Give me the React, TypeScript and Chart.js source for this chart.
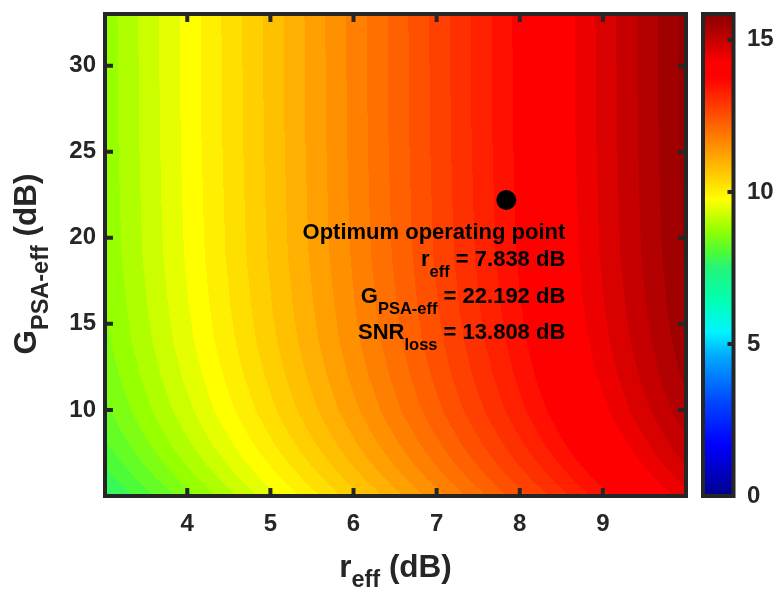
import React, { useEffect, useRef } from "react";
import { Chart, registerables } from "chart.js";

Chart.register(...registerables);

// ---------------- data ----------------
// grid columns: r_eff (dB)
const rEffGrid = [3, 4, 5, 6, 7, 8, 9, 10];
// grid rows: G_PSA-eff (dB)
const gPsaGrid = [5, 6, 7, 8, 9, 10, 12, 14, 16, 19, 22, 26, 33];
// SNR_loss (dB); one row per gPsaGrid entry, one column per rEffGrid entry
const snrLoss = [
  [7.65, 8.65, 9.65, 10.65, 11.65, 12.65, 13.65, 14.65],
  [7.87, 8.87, 9.87, 10.87, 11.87, 12.87, 13.87, 14.87],
  [8.05, 9.05, 10.05, 11.05, 12.05, 13.05, 14.05, 15.05],
  [8.2, 9.2, 10.2, 11.2, 12.2, 13.2, 14.2, 15.2],
  [8.32, 9.32, 10.32, 11.32, 12.32, 13.32, 14.32, 15.32],
  [8.43, 9.43, 10.43, 11.43, 12.43, 13.43, 14.43, 15.43],
  [8.57, 9.57, 10.57, 11.57, 12.57, 13.57, 14.57, 15.57],
  [8.67, 9.67, 10.67, 11.67, 12.67, 13.67, 14.67, 15.67],
  [8.73, 9.73, 10.73, 11.73, 12.73, 13.73, 14.73, 15.73],
  [8.79, 9.79, 10.79, 11.79, 12.79, 13.79, 14.79, 15.79],
  [8.81, 9.81, 10.81, 11.81, 12.81, 13.81, 14.81, 15.81],
  [8.83, 9.83, 10.83, 11.83, 12.83, 13.83, 14.83, 15.83],
  [8.84, 9.84, 10.84, 11.84, 12.84, 13.84, 14.84, 15.84],
];
const contourStep = 0.25;

const xRange = [3.0103, 10];
const yRange = [5, 33];
const cbRange = [0, 15.85];
const xTicks = [4, 5, 6, 7, 8, 9];
const yTicks = [10, 15, 20, 25, 30];
const cbTicks = [0, 5, 10, 15];

// colormap stops (value -> colour)
const cmapValues = [0, 1.7, 3.1, 4.6, 5.4, 6.4, 7.5, 8.0, 8.75, 9.75, 11.75, 13.75, 14.25, 15.5, 15.85];
const cmapColors = [
  [0, 0, 140], [0, 0, 255], [0, 70, 255], [0, 170, 255], [0, 245, 255], [0, 255, 180],
  [35, 245, 120], [75, 252, 55], [150, 255, 0], [255, 255, 0], [255, 128, 0],
  [255, 0, 0], [255, 0, 0], [160, 0, 0], [140, 0, 0],
];

const optR = 7.838;
const optG = 22.192;
const optSnr = 13.808;

// ---------------- helpers ----------------
const FONT = '"Liberation Sans", Arial, Helvetica, sans-serif';
const INK = "#262626";

function cmap(v: number): number[] {
  if (v <= cmapValues[0]) return cmapColors[0];
  const n = cmapValues.length;
  if (v >= cmapValues[n - 1]) return cmapColors[n - 1];
  let i = 0;
  while (v > cmapValues[i + 1]) i++;
  const t = (v - cmapValues[i]) / (cmapValues[i + 1] - cmapValues[i]);
  const a = cmapColors[i], b = cmapColors[i + 1];
  return [0, 1, 2].map((k) => Math.round(a[k] + (b[k] - a[k]) * t));
}

function locate(arr: number[], v: number): [number, number] {
  const n = arr.length;
  if (v <= arr[0]) return [0, 0];
  if (v >= arr[n - 1]) return [n - 2, 1];
  let i = 0;
  while (v > arr[i + 1]) i++;
  return [i, (v - arr[i]) / (arr[i + 1] - arr[i])];
}

function fieldAt(r: number, g: number): number {
  const [i, tx] = locate(rEffGrid, r);
  const [j, ty] = locate(gPsaGrid, g);
  const a = snrLoss[j][i], b = snrLoss[j][i + 1];
  const c = snrLoss[j + 1][i], d = snrLoss[j + 1][i + 1];
  return (a * (1 - tx) + b * tx) * (1 - ty) + (c * (1 - tx) + d * tx) * ty;
}

type Part = [string, boolean];
function richWidth(ctx: CanvasRenderingContext2D, parts: Part[], size: number, sub: number) {
  let w = 0;
  for (const [t, s] of parts) {
    ctx.font = `bold ${s ? sub : size}px ${FONT}`;
    w += ctx.measureText(t).width;
  }
  return w;
}
function drawRich(ctx: CanvasRenderingContext2D, parts: Part[], x: number, y: number, size: number, sub: number, subDy: number) {
  let cx = x;
  ctx.textBaseline = "alphabetic";
  ctx.textAlign = "left";
  for (const [t, s] of parts) {
    ctx.font = `bold ${s ? sub : size}px ${FONT}`;
    ctx.fillText(t, cx, s ? y + subDy : y);
    cx += ctx.measureText(t).width;
  }
}

// ---------------- plugins ----------------
const fieldPlugin = {
  id: "field",
  beforeDatasetsDraw(chart: any) {
    const { ctx, chartArea: a, scales } = chart;
    const xs = scales.x, ys = scales.y;
    const w = Math.round(a.right - a.left), h = Math.round(a.bottom - a.top);
    const off = document.createElement("canvas");
    off.width = w; off.height = h;
    const octx = off.getContext("2d")!;
    const img = octx.createImageData(w, h);
    for (let j = 0; j < h; j++) {
      const g = ys.getValueForPixel(a.top + j + 0.5);
      for (let i = 0; i < w; i++) {
        const r = xs.getValueForPixel(a.left + i + 0.5);
        const v = fieldAt(r, g);
        const lvl = Math.floor(v / contourStep) * contourStep;
        const c = cmap(lvl);
        const p = (j * w + i) * 4;
        img.data[p] = c[0]; img.data[p + 1] = c[1]; img.data[p + 2] = c[2]; img.data[p + 3] = 255;
      }
    }
    octx.putImageData(img, 0, 0);
    ctx.save();
    ctx.drawImage(off, a.left, a.top);
    ctx.restore();
  },
};

const decorPlugin = {
  id: "decor",
  afterDatasetsDraw(chart: any) {
    const { ctx, scales } = chart;
    const px = scales.x.getPixelForValue(optR);
    const py = scales.y.getPixelForValue(optG);
    ctx.save();
    ctx.fillStyle = "#000";
    const right = px + 59;
    const lines: Part[][] = [
      [["Optimum operating point", false]],
      [["r", false], ["eff", true], [` = ${optR.toFixed(3)} dB`, false]],
      [["G", false], ["PSA-eff", true], [` = ${optG.toFixed(3)} dB`, false]],
      [["SNR", false], ["loss", true], [` = ${optSnr.toFixed(3)} dB`, false]],
    ];
    const dys = [39, 66, 103, 139];
    lines.forEach((parts, k) => {
      const w = richWidth(ctx, parts, 22, 16.5);
      drawRich(ctx, parts, right - w, py + dys[k], 22, 16.5, 11);
    });
    ctx.restore();
  },
  afterDraw(chart: any) {
    const { ctx, chartArea: a, scales } = chart;
    ctx.save();
    ctx.strokeStyle = INK;
    ctx.lineWidth = 4;
    ctx.strokeRect(a.left, a.top, a.right - a.left, a.bottom - a.top);
    const tl = 8;
    ctx.beginPath();
    for (const v of xTicks) {
      const x = scales.x.getPixelForValue(v);
      ctx.moveTo(x, a.bottom); ctx.lineTo(x, a.bottom - tl);
      ctx.moveTo(x, a.top); ctx.lineTo(x, a.top + tl);
    }
    for (const v of yTicks) {
      const y = scales.y.getPixelForValue(v);
      ctx.moveTo(a.left, y); ctx.lineTo(a.left + tl, y);
      ctx.moveTo(a.right, y); ctx.lineTo(a.right - tl, y);
    }
    ctx.stroke();

    // colorbar
    const cb = scales.cb;
    const cl = a.right + 17, cr = a.right + 47.5;
    const top = cb.getPixelForValue(cbRange[1]), bot = cb.getPixelForValue(cbRange[0]);
    const grad = ctx.createLinearGradient(0, bot, 0, top);
    cmapValues.forEach((v, i) => {
      const c = cmapColors[i];
      grad.addColorStop((v - cbRange[0]) / (cbRange[1] - cbRange[0]), `rgb(${c[0]},${c[1]},${c[2]})`);
    });
    ctx.fillStyle = grad;
    ctx.fillRect(cl, top, cr - cl, bot - top);
    ctx.strokeRect(cl, top, cr - cl, bot - top);
    ctx.beginPath();
    for (const v of cbTicks) {
      if (v === cbRange[0]) continue;
      const y = cb.getPixelForValue(v);
      ctx.moveTo(cr, y); ctx.lineTo(cr - 6, y);
    }
    ctx.stroke();

    // axis titles
    ctx.fillStyle = INK;
    const xParts: Part[] = [["r", false], ["eff", true], [" (dB)", false]];
    const xw = richWidth(ctx, xParts, 31.5, 23.5);
    drawRich(ctx, xParts, (a.left + a.right) / 2 - xw / 2, 577, 31.5, 23.5, 10);

    const yParts: Part[] = [["G", false], ["PSA-eff", true], [" (dB)", false]];
    const yw = richWidth(ctx, yParts, 31.5, 23.5);
    ctx.translate(36, (a.top + a.bottom) / 2 + 9);
    ctx.rotate(-Math.PI / 2);
    drawRich(ctx, yParts, -yw / 2, 0, 31.5, 23.5, 12);
    ctx.restore();
  },
};

function setTicks(values: number[]) {
  return (scale: any) => {
    scale.ticks = values.map((v) => ({ value: v }));
  };
}
function fix(size: { width?: number; height?: number }) {
  return (scale: any) => {
    if (size.width !== undefined) scale.width = size.width;
    if (size.height !== undefined) scale.height = size.height;
    scale.paddingTop = 0; scale.paddingBottom = 0;
    scale.paddingLeft = 0; scale.paddingRight = 0;
  };
}

const tickFont = { family: FONT, size: 24, weight: "bold" as const };

export default function App() {
  const ref = useRef<HTMLCanvasElement>(null);
  useEffect(() => {
    const chart = new Chart(ref.current!, {
      type: "scatter",
      data: {
        datasets: [
          {
            label: "Optimum operating point",
            data: [{ x: optR, y: optG }],
            pointRadius: 10,
            pointHoverRadius: 10,
            backgroundColor: "#000",
            borderWidth: 0,
          },
        ],
      },
      options: {
        responsive: false,
        animation: false,
        devicePixelRatio: 1,
        events: [],
        layout: { padding: { top: 14, left: 0, right: 0, bottom: 0 } },
        plugins: { legend: { display: false }, tooltip: { enabled: false } },
        scales: {
          x: {
            type: "linear",
            position: "bottom",
            min: xRange[0],
            max: xRange[1],
            afterBuildTicks: setTicks(xTicks),
            afterFit: fix({ height: 94 }),
            grid: { display: false, drawTicks: false },
            border: { display: false },
            ticks: { font: tickFont, color: INK, padding: 14, maxRotation: 0, autoSkip: false },
          },
          y: {
            type: "linear",
            position: "left",
            min: yRange[0],
            max: yRange[1],
            afterBuildTicks: setTicks(yTicks),
            afterFit: fix({ width: 105 }),
            grid: { display: false, drawTicks: false },
            border: { display: false },
            ticks: { font: tickFont, color: INK, padding: 9, autoSkip: false },
          },
          cb: {
            type: "linear",
            position: "right",
            min: cbRange[0],
            max: cbRange[1],
            afterBuildTicks: setTicks(cbTicks),
            afterFit: fix({ width: 90 }),
            grid: { display: false, drawTicks: false },
            border: { display: false },
            ticks: { font: tickFont, color: INK, padding: 61, autoSkip: false },
          },
        },
      },
      plugins: [fieldPlugin, decorPlugin],
    } as any);
    return () => chart.destroy();
  }, []);
  return (
    <div style={{ position: "absolute", left: 0, top: 0, width: 776, height: 590, background: "#fff" }}>
      <canvas ref={ref} width={776} height={590} style={{ display: "block", width: 776, height: 590 }} />
    </div>
  );
}
